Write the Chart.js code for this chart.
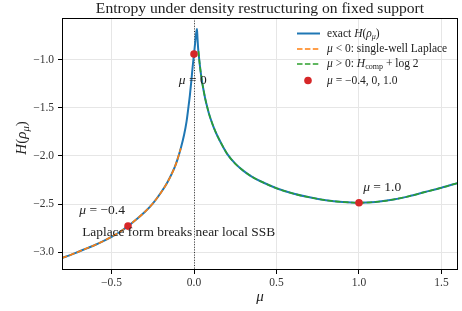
<!DOCTYPE html>
<html>
<head>
<meta charset="utf-8">
<script src="https://cdn.jsdelivr.net/npm/chart.js@4.4.1/dist/chart.umd.min.js"></script>
<style>
  html, body { margin: 0; padding: 0; background: #fff; }
  #wrap { width: 462px; height: 311px; }
</style>
</head>
<body>
<div id="wrap"><canvas id="c" width="462" height="311"></canvas></div>
<script>
// ═══ DATA ═══
const muExact = [-0.8, -0.75, -0.7, -0.65, -0.6, -0.55, -0.5, -0.45, -0.4, -0.35, -0.3, -0.25, -0.2, -0.16, -0.12, -0.1, -0.08, -0.06, -0.045, -0.035, -0.025, -0.015, -0.008, 0,
  0.006, 0.012, 0.018, 0.021, 0.025, 0.03, 0.035, 0.04, 0.05, 0.06, 0.07, 0.08, 0.09, 0.1, 0.12, 0.14, 0.17, 0.2, 0.25, 0.3, 0.35, 0.4, 0.5, 0.6, 0.7, 0.8, 0.9, 1.0, 1.1, 1.2, 1.3, 1.4, 1.5, 1.6];
const hExact = [-3.06, -3.03, -2.995, -2.96, -2.925, -2.885, -2.84, -2.79, -2.729, -2.66, -2.585, -2.495, -2.38, -2.27, -2.13, -2.035, -1.92, -1.78, -1.64, -1.51, -1.37, -1.20, -1.07, -0.94,
  -0.84, -0.74, -0.68, -0.77, -0.88, -0.97, -1.05, -1.12, -1.24, -1.335, -1.42, -1.49, -1.555, -1.61, -1.705, -1.785, -1.885, -1.975, -2.08, -2.155, -2.215, -2.26, -2.335, -2.39, -2.43, -2.46, -2.478, -2.486, -2.478, -2.455, -2.42, -2.375, -2.33, -2.28];

const muLaplace = [-0.8, -0.75, -0.7, -0.65, -0.6, -0.55, -0.5, -0.45, -0.4, -0.35, -0.3, -0.25, -0.2, -0.16, -0.12, -0.1, -0.08];
const hLaplace = [-3.06, -3.03, -2.995, -2.96, -2.925, -2.885, -2.84, -2.79, -2.729, -2.66, -2.585, -2.495, -2.38, -2.27, -2.13, -2.035, -1.92];

const muComp = [0.027, 0.03, 0.035, 0.04, 0.05, 0.06, 0.07, 0.08, 0.09, 0.1, 0.12, 0.14, 0.17, 0.2, 0.25, 0.3, 0.35, 0.4, 0.5, 0.6, 0.7, 0.8, 0.9, 1.0, 1.1, 1.2, 1.3, 1.4, 1.5, 1.6];
const hComp = [-0.91, -0.97, -1.05, -1.12, -1.24, -1.335, -1.42, -1.49, -1.555, -1.61, -1.705, -1.785, -1.885, -1.975, -2.08, -2.155, -2.215, -2.26, -2.335, -2.39, -2.43, -2.46, -2.478, -2.486, -2.478, -2.455, -2.42, -2.375, -2.33, -2.28];

const muMarks = [-0.4, 0, 1.0];
const hMarks = [-2.729, -0.94, -2.486];

const xTicks = [-0.5, 0, 0.5, 1.0, 1.5];
const yTicks = [-3.0, -2.5, -2.0, -1.5, -1.0];

const pts = (xs, ys) => xs.map((x, i) => ({ x, y: ys[i] }));
const fmt = v => (v < 0 ? '\u2212' : '') + Math.abs(v).toFixed(1);

const SERIF = '"Liberation Serif", "Times New Roman", serif';
const C = { blue: '#1f77b4', orange: '#ff7f0e', green: '#2ca02c', red: '#d62728' };

// ═══ RICH TEXT (italic / subscript pieces) ═══
function richWidth(ctx, segs, size) {
    let w = 0;
    segs.forEach(s => { ctx.font = `${s.it ? 'italic ' : ''}${s.sub ? size * 0.7 : size}px ${SERIF}`; w += ctx.measureText(s.t).width; });
    return w;
}
function drawRich(ctx, segs, x, y, size, align) {
    let w = richWidth(ctx, segs, size);
    let cx = align === 'center' ? x - w / 2 : align === 'right' ? x - w : x;
    ctx.textBaseline = 'middle'; ctx.textAlign = 'left';
    segs.forEach(s => {
        const fs = s.sub ? size * 0.7 : size;
        ctx.font = `${s.it ? 'italic ' : ''}${fs}px ${SERIF}`;
        ctx.fillText(s.t, cx, y + (s.sub ? size * 0.28 : 0));
        cx += ctx.measureText(s.t).width;
    });
}

// ═══ OVERLAY PLUGIN ═══
const overlay = {
    id: 'overlay',
    beforeDatasetsDraw(chart) {
        const { ctx, chartArea: a, scales: { x } } = chart;
        const px = Math.round(x.getPixelForValue(0)) + 0.5;
        ctx.save();
        ctx.strokeStyle = '#333'; ctx.lineWidth = 1; ctx.setLineDash([1, 1.6]);
        ctx.beginPath(); ctx.moveTo(px, a.top); ctx.lineTo(px, a.bottom); ctx.stroke();
        ctx.restore();
    },
    afterDraw(chart) {
        const { ctx, chartArea: a, scales: { x, y } } = chart;
        ctx.save();
        ctx.fillStyle = '#222';
        // frame
        ctx.strokeStyle = '#000'; ctx.lineWidth = 1;
        ctx.strokeRect(a.left + 0.5, a.top + 0.5, a.right - a.left - 1, a.bottom - a.top - 1);
        // title
        ctx.font = `15.6px ${SERIF}`; ctx.textAlign = 'center'; ctx.textBaseline = 'middle';
        ctx.fillText('Entropy under density restructuring on fixed support', (a.left + a.right) / 2, 9);
        // axis titles
        drawRich(ctx, [{ t: '\u03bc', it: true }], (a.left + a.right) / 2, 297, 15, 'center');
        ctx.save();
        ctx.translate(22, 138); ctx.rotate(-Math.PI / 2);
        drawRich(ctx, [{ t: 'H', it: true }, { t: '(' }, { t: '\u03c1', it: true }, { t: '\u03bc', it: true, sub: true }, { t: ')' }], 0, 0, 15, 'center');
        ctx.restore();
        // annotations
        const at = (mx, hy) => [x.getPixelForValue(mx), y.getPixelForValue(hy)];
        let p = at(-0.695, -2.5625);
        drawRich(ctx, [{ t: '\u03bc', it: true }, { t: ' = \u22120.4' }], p[0], p[1], 13.5, 'left');
        p = at(-0.678, -2.798);
        drawRich(ctx, [{ t: 'Laplace form breaks near local SSB' }], p[0], p[1], 13.4, 'left');
        p = at(-0.092, -1.216);
        drawRich(ctx, [{ t: '\u03bc', it: true }, { t: ' = 0' }], p[0], p[1], 13.5, 'left');
        p = at(1.025, -2.326);
        drawRich(ctx, [{ t: '\u03bc', it: true }, { t: ' = 1.0' }], p[0], p[1], 13.5, 'left');
        // legend
        const lx0 = 297, lx1 = 320, tx = 327, fs = 11.5;
        const rows = [
            { yy: 33.5, kind: 'line', color: C.blue, dash: [], lw: 2, segs: [{ t: 'exact ' }, { t: 'H', it: true }, { t: '(' }, { t: '\u03c1', it: true }, { t: '\u03bc', it: true, sub: true }, { t: ')' }] },
            { yy: 49, kind: 'line', color: C.orange, dash: [5.5, 2.4], lw: 1.6, segs: [{ t: '\u03bc', it: true }, { t: ' < 0: single-well Laplace' }] },
            { yy: 64, kind: 'line', color: C.green, dash: [5.5, 2.4], lw: 1.6, segs: [{ t: '\u03bc', it: true }, { t: ' > 0: ' }, { t: 'H', it: true }, { t: 'comp', sub: true }, { t: ' + log 2' }] },
            { yy: 80.5, kind: 'dot', color: C.red, segs: [{ t: '\u03bc', it: true }, { t: ' = \u22120.4, 0, 1.0' }] }
        ];
        rows.forEach(r => {
            if (r.kind === 'line') {
                ctx.save(); ctx.strokeStyle = r.color; ctx.lineWidth = r.lw; ctx.setLineDash(r.dash);
                ctx.beginPath(); ctx.moveTo(lx0, r.yy); ctx.lineTo(lx1, r.yy); ctx.stroke(); ctx.restore();
            } else {
                ctx.fillStyle = r.color; ctx.beginPath(); ctx.arc((lx0 + lx1) / 2 - 0.5, r.yy, 3.8, 0, Math.PI * 2); ctx.fill();
            }
            ctx.fillStyle = '#222';
            drawRich(ctx, r.segs, tx, r.yy, fs, 'left');
        });
        ctx.restore();
    }
};

// ═══ CHART ═══
new Chart(document.getElementById('c'), {
    type: 'line',
    data: {
        datasets: [
            { label: 'exact', data: pts(muExact, hExact), borderColor: C.blue, borderWidth: 2, pointRadius: 0, cubicInterpolationMode: 'monotone', order: 4 },
            { label: 'laplace', data: pts(muLaplace, hLaplace), borderColor: C.orange, borderWidth: 1.6, borderDash: [5.5, 2.4], pointRadius: 0, cubicInterpolationMode: 'monotone', order: 3 },
            { label: 'comp', data: pts(muComp, hComp), borderColor: C.green, borderWidth: 1.6, borderDash: [5.5, 2.4], pointRadius: 0, cubicInterpolationMode: 'monotone', order: 2 },
            { label: 'marks', data: pts(muMarks, hMarks), showLine: false, pointRadius: 3.8, pointBackgroundColor: C.red, pointBorderWidth: 0, order: 1 }
        ]
    },
    options: {
        responsive: false, animation: false, events: [],
        layout: { padding: { left: 0, right: 4, top: 18, bottom: 0 } },
        plugins: { legend: { display: false }, tooltip: { enabled: false }, title: { display: false } },
        scales: {
            x: {
                type: 'linear', min: -0.8, max: 1.6,
                afterBuildTicks: s => { s.ticks = xTicks.map(v => ({ value: v })); },
                afterFit: s => { s.height = 41; },
                grid: { color: '#e6e6e6', tickColor: '#000', tickLength: 4 },
                border: { display: false },
                ticks: { callback: v => fmt(v), color: '#333', padding: 2, maxRotation: 0, font: { family: SERIF, size: 11.5 } }
            },
            y: {
                type: 'linear', min: -3.185, max: -0.566,
                afterBuildTicks: s => { s.ticks = yTicks.map(v => ({ value: v })); },
                afterFit: s => { s.width = 62; },
                grid: { color: '#e6e6e6', tickColor: '#000', tickLength: 4 },
                border: { display: false },
                ticks: { callback: v => fmt(v), color: '#333', padding: 4, font: { family: SERIF, size: 11.5 } }
            }
        }
    },
    plugins: [overlay]
});
</script>
</body>
</html>
